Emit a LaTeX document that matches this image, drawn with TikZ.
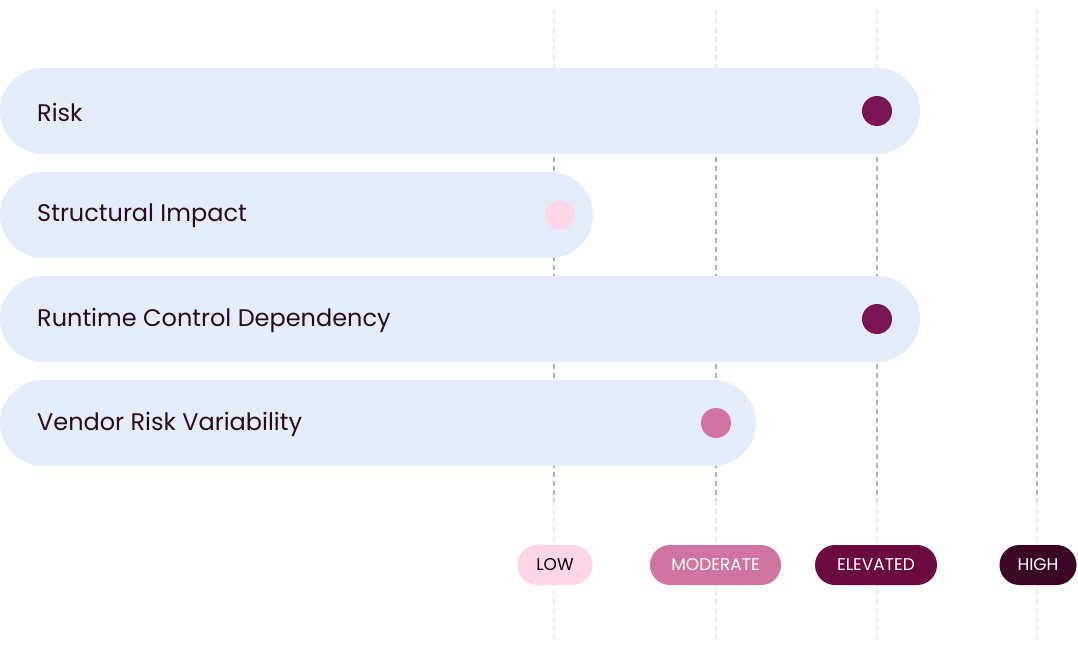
\documentclass[tikz,border=0pt]{standalone}
\usepackage{fontspec}
\setmainfont{Poppins}
\begin{document}
\begin{tikzpicture}[x=1pt,y=-1pt,
  bar/.style={fill=barc,rounded corners=43pt},
  lbl/.style={anchor=west,inner sep=0pt,font=\fontsize{24}{28}\selectfont,text=txt},
  dot/.style={circle,minimum size=30pt,inner sep=0pt},
  badge/.style={rounded corners=20pt,minimum height=40pt,inner sep=0pt,font=\fontsize{17}{20}\selectfont},
  grid/.style={dash pattern=on 5pt off 4pt,line width=1.2pt}]
\definecolor{barc}{HTML}{E5EDFD}
\definecolor{txt}{HTML}{2A0A1E}
\definecolor{low}{HTML}{FFD6E8}
\definecolor{mod}{HTML}{D074A0}
\definecolor{elev}{HTML}{6A0A40}
\definecolor{high}{HTML}{3A0624}
\definecolor{dotc}{HTML}{7A1455}
\useasboundingbox (0,0) rectangle (1078,650);
\foreach \x in {554,716,877,1037}{
  \draw[grid,black!8] (\x,10) -- (\x,130);
  \draw[grid,black!30] (\x,130) -- (\x,500);
  \draw[grid,black!8] (\x,500) -- (\x,640);
}
\fill[bar] (0,68) rectangle (920,154);
\fill[bar] (0,172) rectangle (593,258);
\fill[bar] (0,276) rectangle (920,362);
\fill[bar] (0,380) rectangle (756,466);
\node[lbl] (l1) at (37,112) {Risk};
\node[lbl] (l2) at (37,216) {Structural Impact};
\node[lbl] (l3) at (37,320) {Runtime Control Dependency};
\node[lbl] (l4) at (37,424) {Vendor Risk Variability};
\node[dot,fill=dotc] (d1) at (877,111) {};
\node[dot,fill=low] (d2) at (560,215) {};
\node[dot,fill=dotc] (d3) at (877,319) {};
\node[dot,fill=mod] (d4) at (716,423) {};
\node[badge,fill=low,text=black,minimum width=75pt] (b1) at (555,565) {LOW};
\node[badge,fill=mod,text=white,minimum width=131pt] (b2) at (715.5,565) {MODERATE};
\node[badge,fill=elev,text=white,minimum width=122pt] (b3) at (876,565) {ELEVATED};
\node[badge,fill=high,text=white,minimum width=77pt] (b4) at (1038,565) {HIGH};
\end{tikzpicture}
\end{document}
